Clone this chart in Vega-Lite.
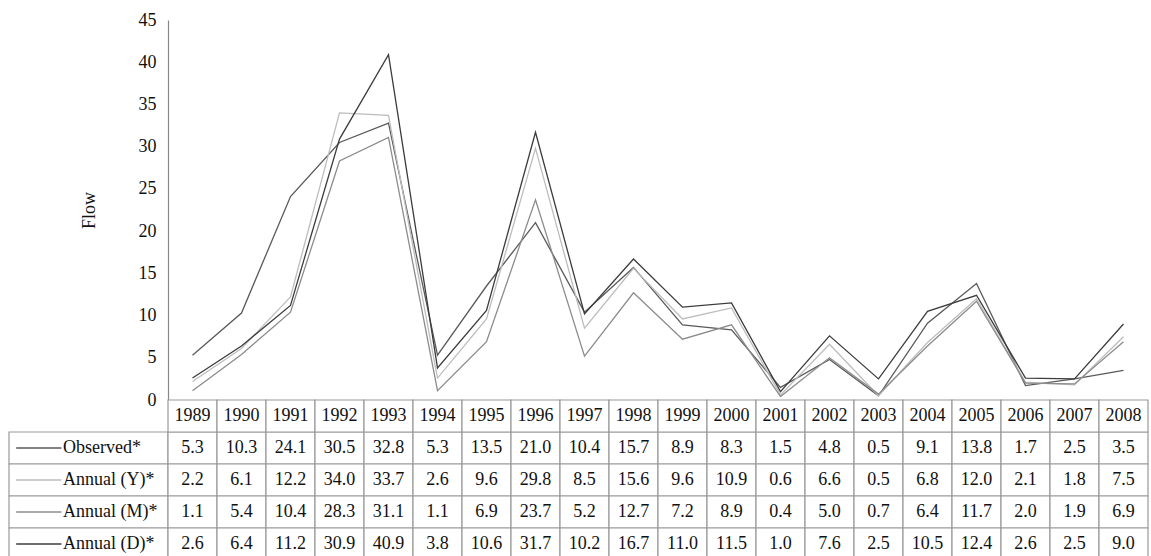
{
  "$schema": "https://vega.github.io/schema/vega-lite/v6.json",
  "padding": {"left": 8, "top": 11, "right": 4, "bottom": 0},
  "background": "white",
  "config": {"font": "Liberation Serif", "view": {"stroke": null}},
  "datasets": {
    "flow": [
      {"year": "1989", "series": "Observed*", "flow": 5.3},
      {"year": "1990", "series": "Observed*", "flow": 10.3},
      {"year": "1991", "series": "Observed*", "flow": 24.1},
      {"year": "1992", "series": "Observed*", "flow": 30.5},
      {"year": "1993", "series": "Observed*", "flow": 32.8},
      {"year": "1994", "series": "Observed*", "flow": 5.3},
      {"year": "1995", "series": "Observed*", "flow": 13.5},
      {"year": "1996", "series": "Observed*", "flow": 21.0},
      {"year": "1997", "series": "Observed*", "flow": 10.4},
      {"year": "1998", "series": "Observed*", "flow": 15.7},
      {"year": "1999", "series": "Observed*", "flow": 8.9},
      {"year": "2000", "series": "Observed*", "flow": 8.3},
      {"year": "2001", "series": "Observed*", "flow": 1.5},
      {"year": "2002", "series": "Observed*", "flow": 4.8},
      {"year": "2003", "series": "Observed*", "flow": 0.5},
      {"year": "2004", "series": "Observed*", "flow": 9.1},
      {"year": "2005", "series": "Observed*", "flow": 13.8},
      {"year": "2006", "series": "Observed*", "flow": 1.7},
      {"year": "2007", "series": "Observed*", "flow": 2.5},
      {"year": "2008", "series": "Observed*", "flow": 3.5},
      {"year": "1989", "series": "Annual (Y)*", "flow": 2.2},
      {"year": "1990", "series": "Annual (Y)*", "flow": 6.1},
      {"year": "1991", "series": "Annual (Y)*", "flow": 12.2},
      {"year": "1992", "series": "Annual (Y)*", "flow": 34.0},
      {"year": "1993", "series": "Annual (Y)*", "flow": 33.7},
      {"year": "1994", "series": "Annual (Y)*", "flow": 2.6},
      {"year": "1995", "series": "Annual (Y)*", "flow": 9.6},
      {"year": "1996", "series": "Annual (Y)*", "flow": 29.8},
      {"year": "1997", "series": "Annual (Y)*", "flow": 8.5},
      {"year": "1998", "series": "Annual (Y)*", "flow": 15.6},
      {"year": "1999", "series": "Annual (Y)*", "flow": 9.6},
      {"year": "2000", "series": "Annual (Y)*", "flow": 10.9},
      {"year": "2001", "series": "Annual (Y)*", "flow": 0.6},
      {"year": "2002", "series": "Annual (Y)*", "flow": 6.6},
      {"year": "2003", "series": "Annual (Y)*", "flow": 0.5},
      {"year": "2004", "series": "Annual (Y)*", "flow": 6.8},
      {"year": "2005", "series": "Annual (Y)*", "flow": 12.0},
      {"year": "2006", "series": "Annual (Y)*", "flow": 2.1},
      {"year": "2007", "series": "Annual (Y)*", "flow": 1.8},
      {"year": "2008", "series": "Annual (Y)*", "flow": 7.5},
      {"year": "1989", "series": "Annual (M)*", "flow": 1.1},
      {"year": "1990", "series": "Annual (M)*", "flow": 5.4},
      {"year": "1991", "series": "Annual (M)*", "flow": 10.4},
      {"year": "1992", "series": "Annual (M)*", "flow": 28.3},
      {"year": "1993", "series": "Annual (M)*", "flow": 31.1},
      {"year": "1994", "series": "Annual (M)*", "flow": 1.1},
      {"year": "1995", "series": "Annual (M)*", "flow": 6.9},
      {"year": "1996", "series": "Annual (M)*", "flow": 23.7},
      {"year": "1997", "series": "Annual (M)*", "flow": 5.2},
      {"year": "1998", "series": "Annual (M)*", "flow": 12.7},
      {"year": "1999", "series": "Annual (M)*", "flow": 7.2},
      {"year": "2000", "series": "Annual (M)*", "flow": 8.9},
      {"year": "2001", "series": "Annual (M)*", "flow": 0.4},
      {"year": "2002", "series": "Annual (M)*", "flow": 5.0},
      {"year": "2003", "series": "Annual (M)*", "flow": 0.7},
      {"year": "2004", "series": "Annual (M)*", "flow": 6.4},
      {"year": "2005", "series": "Annual (M)*", "flow": 11.7},
      {"year": "2006", "series": "Annual (M)*", "flow": 2.0},
      {"year": "2007", "series": "Annual (M)*", "flow": 1.9},
      {"year": "2008", "series": "Annual (M)*", "flow": 6.9},
      {"year": "1989", "series": "Annual (D)*", "flow": 2.6},
      {"year": "1990", "series": "Annual (D)*", "flow": 6.4},
      {"year": "1991", "series": "Annual (D)*", "flow": 11.2},
      {"year": "1992", "series": "Annual (D)*", "flow": 30.9},
      {"year": "1993", "series": "Annual (D)*", "flow": 40.9},
      {"year": "1994", "series": "Annual (D)*", "flow": 3.8},
      {"year": "1995", "series": "Annual (D)*", "flow": 10.6},
      {"year": "1996", "series": "Annual (D)*", "flow": 31.7},
      {"year": "1997", "series": "Annual (D)*", "flow": 10.2},
      {"year": "1998", "series": "Annual (D)*", "flow": 16.7},
      {"year": "1999", "series": "Annual (D)*", "flow": 11.0},
      {"year": "2000", "series": "Annual (D)*", "flow": 11.5},
      {"year": "2001", "series": "Annual (D)*", "flow": 1.0},
      {"year": "2002", "series": "Annual (D)*", "flow": 7.6},
      {"year": "2003", "series": "Annual (D)*", "flow": 2.5},
      {"year": "2004", "series": "Annual (D)*", "flow": 10.5},
      {"year": "2005", "series": "Annual (D)*", "flow": 12.4},
      {"year": "2006", "series": "Annual (D)*", "flow": 2.6},
      {"year": "2007", "series": "Annual (D)*", "flow": 2.5},
      {"year": "2008", "series": "Annual (D)*", "flow": 9.0}
    ]
  },
  "columns": 2,
  "spacing": 0,
  "bounds": "flush",
  "concat": [
    {
      "width": 159,
      "height": 380,
      "data": {"values": []},
      "mark": "point",
      "encoding": {}
    },
    {
      "width": 980,
      "height": 380,
      "data": {"name": "flow"},
      "mark": {"type": "line", "strokeWidth": 1.3},
      "encoding": {
        "x": {"field": "year", "type": "ordinal", "scale": {"type": "point", "padding": 0.5}, "axis": null},
        "y": {
          "field": "flow", "type": "quantitative",
          "scale": {"domain": [0, 45], "nice": false, "zero": true},
          "axis": {
            "values": [0, 5, 10, 15, 20, 25, 30, 35, 40, 45],
            "title": "Flow", "grid": false, "ticks": false,
            "domainColor": "#888888", "domainWidth": 1.2,
            "labelFontSize": 18, "labelColor": "#111111", "labelPadding": 12,
            "labelFont": "Liberation Serif",
            "titleFont": "Liberation Serif", "titleFontSize": 18, "titleFontWeight": "normal",
            "titleColor": "#111111", "titlePadding": 40
          }
        },
        "color": {
          "field": "series", "type": "nominal",
          "scale": {
            "domain": ["Observed*", "Annual (Y)*", "Annual (M)*", "Annual (D)*"],
            "range": ["#5a5a5a", "#bdbdbd", "#8c8c8c", "#3c3c3c"]
          },
          "legend": null
        }
      }
    },
    {
      "width": 159,
      "height": 160,
      "data": {"name": "flow"},
      "transform": [{"filter": "datum.year === '1989'"}],
      "encoding": {
        "y": {
          "field": "series", "type": "nominal",
          "scale": {"domain": ["Year", "Observed*", "Annual (Y)*", "Annual (M)*", "Annual (D)*"], "paddingInner": 0, "paddingOuter": 0},
          "axis": null
        }
      },
      "layer": [
        {"mark": {"type": "rect", "fill": "white", "stroke": "#9a9a9a", "strokeWidth": 1.2}},
        {
          "mark": {"type": "rule", "strokeWidth": 1.3},
          "encoding": {
            "x": {"datum": 0.045, "type": "quantitative", "scale": {"domain": [0, 1]}, "axis": null},
            "x2": {"datum": 0.33},
            "color": {
              "field": "series", "type": "nominal",
              "scale": {
                "domain": ["Observed*", "Annual (Y)*", "Annual (M)*", "Annual (D)*"],
                "range": ["#5a5a5a", "#bdbdbd", "#8c8c8c", "#3c3c3c"]
              },
              "legend": null
            }
          }
        },
        {
          "mark": {"type": "text", "align": "left", "baseline": "middle", "fontSize": 18, "color": "#111111", "font": "Liberation Serif"},
          "encoding": {
            "x": {"datum": 0.34, "type": "quantitative", "scale": {"domain": [0, 1]}, "axis": null},
            "text": {"field": "series"}
          }
        }
      ]
    },
    {
      "width": 980,
      "height": 160,
      "data": {"name": "flow"},
      "encoding": {
        "x": {"field": "year", "type": "ordinal", "scale": {"type": "band", "paddingInner": 0, "paddingOuter": 0}, "axis": null}
      },
      "layer": [
        {
          "mark": {"type": "rect", "fill": "white", "stroke": "#9a9a9a", "strokeWidth": 1.2},
          "encoding": {
            "y": {
              "field": "series", "type": "nominal",
              "scale": {"domain": ["Year", "Observed*", "Annual (Y)*", "Annual (M)*", "Annual (D)*"], "paddingInner": 0, "paddingOuter": 0},
              "axis": null
            }
          }
        },
        {
          "transform": [{"filter": "datum.series === 'Observed*'"}],
          "mark": {"type": "rect", "fill": "white", "stroke": "#9a9a9a", "strokeWidth": 1.2},
          "encoding": {"y": {"datum": "Year", "type": "nominal"}}
        },
        {
          "mark": {"type": "text", "baseline": "middle", "fontSize": 18, "color": "#111111", "font": "Liberation Serif"},
          "encoding": {
            "y": {"field": "series", "type": "nominal"},
            "text": {"field": "flow", "type": "quantitative", "format": ".1f"}
          }
        },
        {
          "transform": [{"filter": "datum.series === 'Observed*'"}],
          "mark": {"type": "text", "baseline": "middle", "fontSize": 18, "color": "#111111", "font": "Liberation Serif"},
          "encoding": {
            "y": {"datum": "Year", "type": "nominal"},
            "text": {"field": "year"}
          }
        }
      ]
    }
  ]
}
